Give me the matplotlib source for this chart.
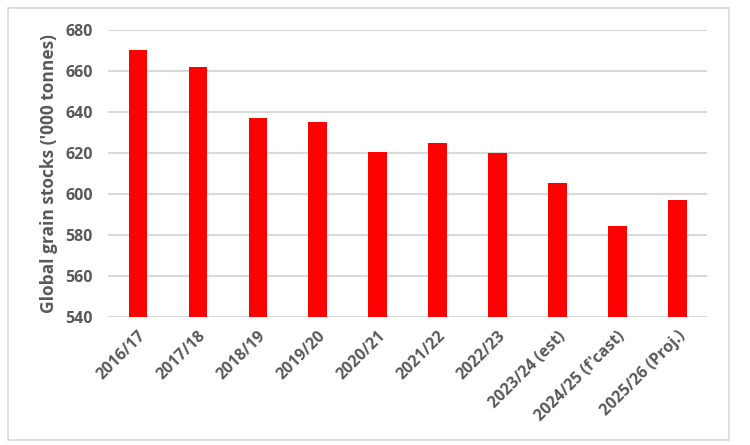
import numpy as np
import matplotlib.pyplot as plt
from matplotlib.patches import Rectangle

seasons = ['2016/17', '2017/18', '2018/19', '2019/20', '2020/21', '2021/22',
           '2022/23', '2023/24 (est)', "2024/25 (f'cast)", '2025/26 (Proj.)']
stocks = [670, 662, 637, 635, 620.5, 625, 620, 605.5, 584.5, 597]
yticks = [540, 560, 580, 600, 620, 640, 660, 680]

plt.rcParams['font.family'] = ['Open Sans', 'DejaVu Sans']
txt = '#595959'

fig = plt.figure(figsize=(7.5, 4.45), dpi=100)
ax = fig.add_axes([0.144, 0.2876, 0.799, 0.645])

x = np.arange(len(seasons))
ax.bar(x, stocks, width=0.31, color='#ff0000', zorder=3)

ax.set_ylim(540, 680)
ax.set_xlim(-0.5, len(seasons) - 0.5)
ax.set_yticks(yticks)
ax.set_xticks(x)
ax.set_xticklabels(seasons, rotation=45, ha='right', rotation_mode='anchor',
                   fontsize=11.5, fontweight='bold', color=txt)
for lab in ax.get_yticklabels():
    lab.set_fontsize(11.5)
    lab.set_fontweight('bold')
    lab.set_color(txt)
ax.tick_params(axis='y', length=0, pad=11)
ax.tick_params(axis='x', length=0, pad=8)
ax.grid(axis='y', color='#d9d9d9', linewidth=1.5, zorder=0)
for s in ax.spines.values():
    s.set_visible(False)
ax.set_ylabel("Global grain stocks ('000 tonnes)", fontsize=12.5,
              fontweight='bold', color=txt, labelpad=5)

fig.patches.append(Rectangle((8 / 750, 5 / 445), 721 / 750, 432 / 445,
                             transform=fig.transFigure, fill=False,
                             edgecolor='#d9d9d9', linewidth=1.2))

fig.savefig('out.png', dpi=100)
